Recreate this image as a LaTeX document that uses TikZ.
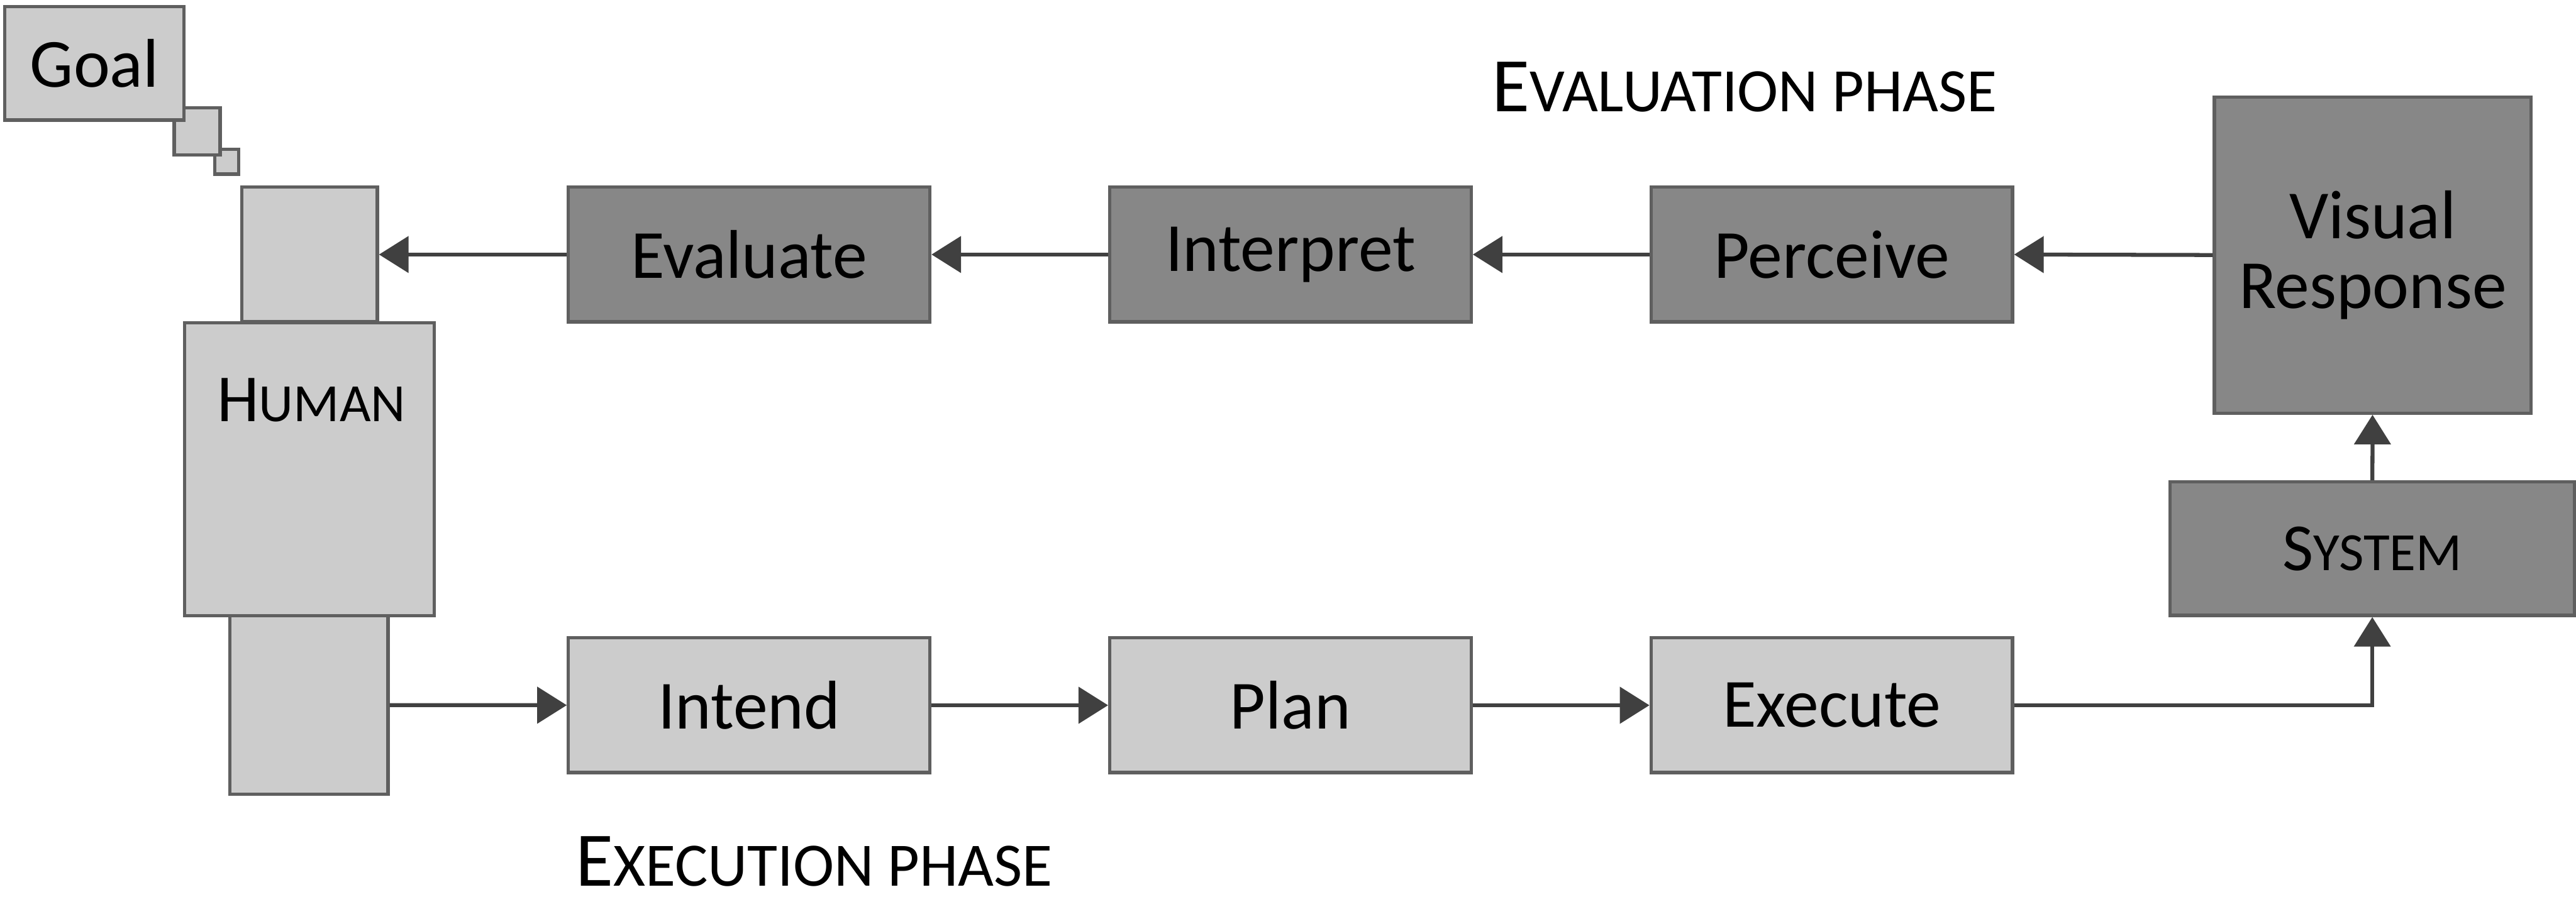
\documentclass[tikz,border=0pt]{standalone}
\usepackage{fontspec}
\setmainfont{Carlito}
\usetikzlibrary{arrows.meta}

\definecolor{lightfill}{RGB}{204,204,204}
\definecolor{darkfill}{RGB}{135,135,135}
\definecolor{boxline}{RGB}{95,95,95}
\definecolor{arrowline}{RGB}{64,64,64}

\newcommand{\boxfont}{\fontsize{21}{21.4}\selectfont}
\newcommand{\capsbig}{\fontsize{20.5}{21}\selectfont}
\newcommand{\capssmall}{\fontsize{16.4}{17}\selectfont}
\newcommand{\phasebig}{\fontsize{23.5}{24}\selectfont}
\newcommand{\phasesmall}{\fontsize{18.8}{19}\selectfont}

\begin{document}
\begin{tikzpicture}[x=0.5pt,y=0.5pt,yscale=-1,xscale=1,
  lightbox/.style={draw=boxline,fill=lightfill,line width=1pt,inner sep=0pt,font=\boxfont},
  darkbox/.style={draw=boxline,fill=darkfill,line width=1pt,inner sep=0pt,font=\boxfont},
  flow/.style={draw=arrowline,line width=1.2pt,-{Triangle[length=9pt,width=11pt]}}]
\useasboundingbox (0,0) rectangle (1568,546);

%Shape: Thought bubbles
\node [lightbox,minimum width=7.4pt,minimum height=7.5pt] (bubsmall) at (138,98.5) {};
\node [lightbox,minimum width=14pt,minimum height=14.3pt] (bubbig) at (120,80) {};
%Shape: Goal
\node [lightbox,minimum width=54.5pt,minimum height=34.6pt] (goal) at (57.5,38.5) {Goal};

%Shape: Human (head, legs, body)
\node [lightbox,minimum width=41.2pt,minimum height=41pt] (head) at (188.5,155) {};
\node [lightbox,minimum width=48.1pt,minimum height=54.4pt] (legs) at (188.1,429.4) {};
\node [lightbox,minimum width=76pt,minimum height=89.3pt] (body) at (188.4,285.8) {};
% Text Node
\node [anchor=base,inner sep=0pt,font=\capsbig] (humanlbl) at (189.5,256.7) {H{\capssmall UMAN}};

%Shape: Evaluation row
\node [darkbox,minimum width=110pt,minimum height=41pt] (evaluate) at (456,155) {Evaluate};
\node [darkbox,minimum width=110pt,minimum height=41pt] (interpret) at (785.5,155) {Interpret};
\node [darkbox,minimum width=110pt,minimum height=41pt] (perceive) at (1115,155) {Perceive};
\node [darkbox,minimum width=96.4pt,minimum height=96.3pt,align=center] (visual) at (1444.3,155.3) {Visual\\Response};
\node [darkbox,minimum width=123pt,minimum height=40.7pt,font=\capsbig] (system) at (1444,334.1) {S{\capssmall YSTEM}};

%Shape: Execution row
\node [lightbox,minimum width=110pt,minimum height=41pt] (intend) at (456,429.5) {Intend};
\node [lightbox,minimum width=110pt,minimum height=41pt] (plan) at (785.5,429.5) {Plan};
\node [lightbox,minimum width=110pt,minimum height=41pt] (execute) at (1115,429.5) {Execute};

% Text Node
\node [anchor=base west,inner sep=0pt,font=\phasebig] (evalphase) at (908,67.8) {E{\phasesmall VALUATION PHASE}};
% Text Node
\node [anchor=base west,inner sep=0pt,font=\phasebig] (execphase) at (350,539.5) {E{\phasesmall XECUTION PHASE}};

%Straight Lines
\draw [flow] (visual.west) -- (perceive.east);
\draw [flow] (perceive) -- (interpret);
\draw [flow] (interpret) -- (evaluate);
\draw [flow] (evaluate) -- (head);
\draw [flow] (legs) -- (intend);
\draw [flow] (intend) -- (plan);
\draw [flow] (plan) -- (execute);
\draw [flow] (execute) -| (system);
\draw [flow] (system) -- (visual);

\end{tikzpicture}
\end{document}
